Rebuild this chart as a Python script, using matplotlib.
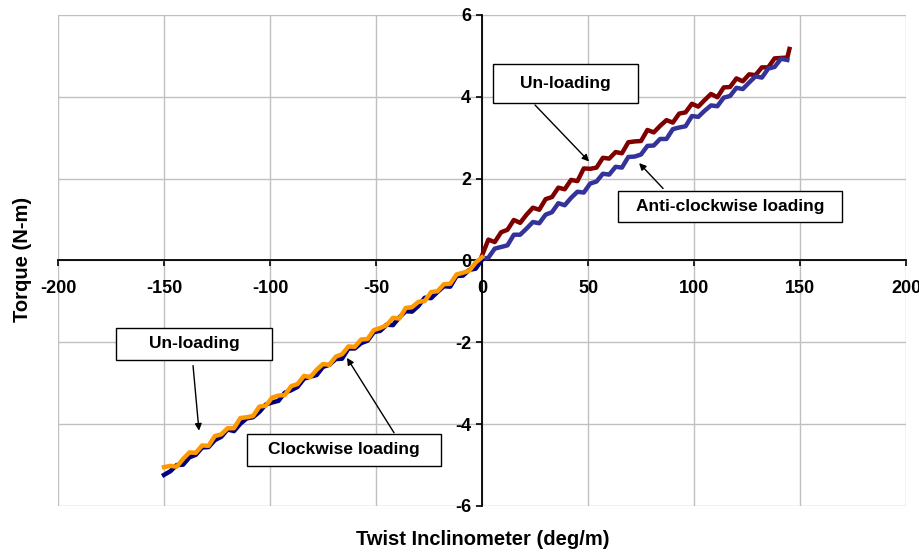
import numpy as np
import matplotlib
matplotlib.use("Agg")
import matplotlib.pyplot as plt
from matplotlib.patches import Rectangle

plt.rcParams['font.family'] = ['Liberation Sans', 'DejaVu Sans']
plt.rcParams['font.weight'] = 'bold'
plt.rcParams['axes.unicode_minus'] = False

# anti-clockwise loading (0 -> 145 deg/m)
acw_x = [0, 3, 6, 9, 12, 15, 18, 21, 24, 27, 30, 33, 36, 39, 42, 45, 48,
         51, 54, 57, 60, 63, 66, 69, 72, 75, 78, 81, 84, 87, 90, 93, 96, 99,
         102, 105, 108, 111, 114, 117, 120, 123, 126, 129, 132, 135, 138, 141, 144]
acw_y = [0.03, 0.07, 0.29, 0.33, 0.37, 0.63, 0.63, 0.78, 0.94, 0.91, 1.12, 1.18,
         1.40, 1.35, 1.53, 1.68, 1.66, 1.88, 1.93, 2.12, 2.10, 2.29, 2.27, 2.53,
         2.54, 2.59, 2.80, 2.81, 2.97, 2.97, 3.21, 3.25, 3.28, 3.53, 3.51, 3.66,
         3.79, 3.77, 3.98, 4.02, 4.22, 4.19, 4.35, 4.50, 4.47, 4.69, 4.73, 4.93, 4.90]

# un-loading after anti-clockwise loading
acw_un_x = [0, 3, 6, 9, 12, 15, 18, 21, 24, 27, 30, 33, 36, 39, 42, 45, 48,
            51, 54, 57, 60, 63, 66, 69, 72, 75, 78, 81, 84, 87, 90, 93, 96, 99,
            102, 105, 108, 111, 114, 117, 120, 123, 126, 129, 132, 135, 138, 141, 144, 145]
acw_un_y = [0.12, 0.51, 0.45, 0.69, 0.75, 0.99, 0.92, 1.12, 1.29, 1.24, 1.50, 1.55,
            1.78, 1.74, 1.97, 1.94, 2.25, 2.24, 2.27, 2.51, 2.49, 2.65, 2.62, 2.89,
            2.91, 2.92, 3.19, 3.13, 3.29, 3.43, 3.37, 3.59, 3.62, 3.83, 3.76, 3.92,
            4.07, 3.99, 4.23, 4.24, 4.45, 4.38, 4.55, 4.53, 4.72, 4.72, 4.94, 4.95,
            4.96, 5.17]

# clockwise loading (0 -> -150 deg/m)
cw_x = [0, -3, -6, -9, -12, -15, -18, -21, -24, -27, -30, -33, -36, -39, -42,
        -45, -48, -51, -54, -57, -60, -63, -66, -69, -72, -75, -78, -81, -84,
        -87, -90, -93, -96, -99, -102, -105, -108, -111, -114, -117, -120, -123,
        -126, -129, -132, -135, -138, -141, -144, -147, -150]
cw_y = [0.02, -0.20, -0.23, -0.37, -0.38, -0.64, -0.63, -0.77, -0.92, -0.91,
        -1.11, -1.25, -1.24, -1.39, -1.58, -1.57, -1.72, -1.75, -1.96, -2.02,
        -2.15, -2.15, -2.40, -2.41, -2.55, -2.60, -2.80, -2.84, -2.89, -3.09,
        -3.17, -3.23, -3.43, -3.47, -3.52, -3.70, -3.83, -3.86, -3.99, -4.17,
        -4.13, -4.31, -4.39, -4.56, -4.57, -4.75, -4.81, -4.99, -5.00, -5.15, -5.24]

# un-loading after clockwise loading
cw_un_x = [-150, -147, -144, -141, -138, -135, -132, -129, -126, -123, -120,
           -117, -114, -111, -108, -105, -102, -99, -96, -93, -90, -87, -84,
           -81, -78, -75, -72, -69, -66, -63, -60, -57, -54, -51, -48, -45,
           -42, -39, -36, -33, -30, -27, -24, -21, -18, -15, -12, -9, -6, -3, 0]
cw_un_y = [-5.05, -5.02, -5.04, -4.85, -4.69, -4.70, -4.52, -4.53, -4.29, -4.25,
           -4.10, -4.10, -3.85, -3.83, -3.80, -3.57, -3.55, -3.35, -3.30, -3.29,
           -3.07, -3.02, -2.82, -2.85, -2.67, -2.53, -2.55, -2.35, -2.29, -2.10,
           -2.11, -1.93, -1.92, -1.70, -1.65, -1.58, -1.40, -1.42, -1.16, -1.14,
           -1.01, -0.99, -0.77, -0.75, -0.58, -0.57, -0.34, -0.30, -0.25, -0.05, 0.08]

x_ticks = [-200, -150, -100, -50, 0, 50, 100, 150, 200]
y_ticks = [-6, -4, -2, 0, 2, 4, 6]

fig = plt.figure(figsize=(9.19, 5.53), dpi=100)
ax = fig.add_axes([0.0631, 0.085, 0.9228, 0.8879])
ax.set_xlim(-200, 200)
ax.set_ylim(-6, 6)
ax.set_xticks(x_ticks)
ax.set_yticks(y_ticks)
ax.grid(True, color='#c0c0c0', lw=1)
ax.set_axisbelow(True)

ax.spines['left'].set_position(('data', 0))
ax.spines['bottom'].set_position(('data', 0))
for s in ['top', 'right']:
    ax.spines[s].set_visible(False)
for s in ['left', 'bottom']:
    ax.spines[s].set_linewidth(1.3)
    ax.spines[s].set_zorder(1.5)
ax.tick_params(axis='both', direction='out', length=4, width=1.2, labelsize=13)
ax.tick_params(axis='x', pad=10)
ax.tick_params(axis='y', pad=4)

ax.plot(acw_un_x, acw_un_y, color='#800000', lw=3.2, zorder=3)
ax.plot(acw_x, acw_y, color='#333399', lw=3.2, zorder=3)
ax.plot(cw_x, cw_y, color='#000080', lw=3.2, zorder=3)
ax.plot(cw_un_x, cw_un_y, color='#ff9900', lw=3.2, zorder=3)

# annotation boxes: (x0, y0, w, h), text, arrow tail, arrow tip
notes = [
    ((5.2, 3.85, 68.4, 0.95), 'Un-loading', (25.0, 3.80), (50.5, 2.42)),
    ((64.2, 0.93, 105.6, 0.78), 'Anti-clockwise loading', (85.4, 1.76), (74.1, 2.38)),
    ((-172.6, -2.42, 73.5, 0.78), 'Un-loading', (-136.3, -2.57), (-133.5, -4.16)),
    ((-110.8, -5.02, 91.5, 0.78), 'Clockwise loading', (-41.5, -4.21), (-63.7, -2.38)),
]
for (x0, y0, w, h), label, tail, tip in notes:
    ax.add_patch(Rectangle((x0, y0), w, h, facecolor='white', edgecolor='black',
                           lw=1, zorder=4))
    ax.text(x0 + w / 2, y0 + h / 2, label, ha='center', va='center',
            fontsize=12.5, fontweight='bold', zorder=5)
    ax.annotate('', xy=tip, xytext=tail, zorder=5,
                arrowprops=dict(arrowstyle='-|>', color='black', lw=1,
                                mutation_scale=10, shrinkA=0, shrinkB=0))

fig.text(0.024, 0.53, 'Torque (N-m)', rotation=90, ha='center', va='center',
         fontsize=14.5, fontweight='bold')
fig.text(0.525, 0.024, 'Twist Inclinometer (deg/m)', ha='center', va='center',
         fontsize=14.5, fontweight='bold')

fig.savefig('out.png', dpi=100)
